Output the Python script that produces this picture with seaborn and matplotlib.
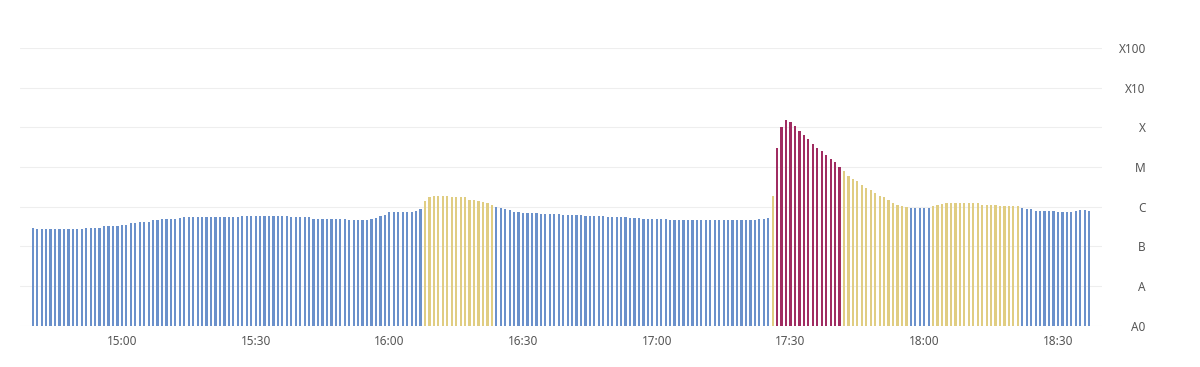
import numpy as np
import pandas as pd
import matplotlib
matplotlib.use("Agg")
import matplotlib.pyplot as plt
import seaborn as sns

# GOES X-ray flux class per minute, starting 14:40
start_time = "14:40"
flux_class = [
    "B2.9", "B2.8", "B2.8", "B2.8", "B2.8", "B2.8", "B2.8", "B2.8", "B2.8", "B2.8",
    "B2.8", "B2.8", "B2.9", "B2.9", "B2.9", "B2.9", "B3.2", "B3.2", "B3.2", "B3.2",
    "B3.5", "B3.5", "B3.8", "B3.8", "B4.2", "B4.2", "B4.2", "B4.6", "B4.6", "B4.9",
    "B4.9", "B4.9", "B4.9", "B5.2", "B5.4", "B5.4", "B5.4", "B5.4", "B5.4", "B5.4",
    "B5.4", "B5.4", "B5.4", "B5.4", "B5.4", "B5.4", "B5.4", "B5.8", "B5.8", "B5.8",
    "B5.8", "B5.8", "B5.8", "B5.8", "B5.8", "B5.8", "B5.8", "B5.8", "B5.4", "B5.4",
    "B5.4", "B5.4", "B5.4", "B5.0", "B5.0", "B5.0", "B4.8", "B4.8", "B4.8", "B4.8",
    "B4.8", "B4.5", "B4.5", "B4.5", "B4.5", "B4.5", "B4.9", "B5.2", "B5.7", "B6.1",
    "B7.3", "B7.3", "B7.3", "B7.3", "B7.3", "B7.3", "B7.8", "B8.9", "C1.4", "C1.8",
    "C1.9", "C1.9", "C1.9", "C1.9", "C1.8", "C1.7", "C1.7", "C1.7", "C1.5", "C1.5",
    "C1.4", "C1.3", "C1.2", "C1.1", "B9.7", "B9.0", "B8.5", "B8.0", "B7.4", "B7.2",
    "B7.0", "B7.0", "B7.0", "B7.0", "B6.6", "B6.6", "B6.6", "B6.6", "B6.6", "B6.2",
    "B6.2", "B6.2", "B6.2", "B6.2", "B5.9", "B5.9", "B5.9", "B5.9", "B5.9", "B5.6",
    "B5.6", "B5.6", "B5.6", "B5.6", "B5.2", "B5.2", "B5.2", "B4.9", "B4.9", "B4.9",
    "B4.9", "B4.9", "B4.9", "B4.6", "B4.6", "B4.6", "B4.6", "B4.6", "B4.6", "B4.6",
    "B4.6", "B4.6", "B4.6", "B4.6", "B4.6", "B4.6", "B4.6", "B4.6", "B4.6", "B4.6",
    "B4.6", "B4.6", "B4.6", "B4.9", "B5.0", "B5.2", "C1.9", "M3.1", "X1.0", "X1.5",
    "X1.4", "X1.1", "M8.1", "M6.3", "M5.0", "M3.9", "M3.1", "M2.5", "M2.0", "M1.6",
    "M1.3", "M1.0", "C7.9", "C5.9", "C5.1", "C4.4", "C3.6", "C3.0", "C2.6", "C2.2",
    "C1.9", "C1.7", "C1.5", "C1.25", "C1.1", "C1.03", "C1.0", "B9.4", "B9.4", "B9.4",
    "B9.4", "B9.4", "C1.04", "C1.1", "C1.15", "C1.2", "C1.25", "C1.25", "C1.25", "C1.25",
    "C1.2", "C1.2", "C1.2", "C1.1", "C1.1", "C1.1", "C1.1", "C1.05", "C1.05", "C1.05",
    "C1.05", "C1.05", "B9.4", "B8.8", "B8.8", "B7.9", "B7.9", "B7.9", "B7.9", "B7.9",
    "B7.4", "B7.4", "B7.4", "B7.4", "B7.7", "B8.0", "B8.0", "B7.8",
]

tick_times = ["15:00", "15:30", "16:00", "16:30", "17:00", "17:30", "18:00", "18:30"]
level_labels = ["A0", "A", "B", "C", "M", "X", "X10", "X100"]
class_exp = {"A": -8, "B": -7, "C": -6, "M": -5, "X": -4}
bar_colors = {"B": "#5b8edb", "C": "#f0d672", "M": "#b3195f"}

times = pd.date_range("2024-01-01 " + start_time, periods=len(flux_class), freq="min").strftime("%H:%M").tolist()

df = pd.DataFrame({"time": times, "cls": flux_class})
df["flux"] = df["cls"].apply(lambda s: float(s[1:]) * 10.0 ** class_exp[s[0]])
df["level"] = np.log10(df["flux"]) + 9  # decades above A0 (1e-9 W/m2)
df["group"] = df["cls"].str[0].replace({"X": "M"})

sns.set_theme(style="white")
plt.rcParams["font.family"] = ["Noto Sans", "DejaVu Sans"]

fig = plt.figure(figsize=(12, 3.67), dpi=100)
ax = fig.add_axes([0.0167, 0.113, 0.9017, 0.756])

sns.barplot(data=df, x="time", y="level", hue="group", order=times,
            hue_order=["B", "C", "M"], palette=bar_colors, dodge=False,
            width=0.5, errorbar=None, legend=False, linewidth=0, ax=ax)

ax.set_ylim(0, 7)
ax.yaxis.tick_right()
ax.set_yticks(range(len(level_labels)), level_labels, ha="right")
ax.tick_params(axis="y", length=0, pad=31.5, labelsize=8.5, labelcolor="#555555")

ax.set_xticks([times.index(t) for t in tick_times], tick_times)
ax.tick_params(axis="x", length=0, pad=7, labelsize=8.5, labelcolor="#555555")
ax.set_xlim(-2.85, 239.9)

ax.grid(axis="y", color="#eeeeee", linewidth=0.8)
ax.grid(axis="x", visible=False)
ax.set_axisbelow(True)
ax.set_xlabel("")
ax.set_ylabel("")
sns.despine(ax=ax, left=True, bottom=True, right=True, top=True)

fig.savefig("out.png", dpi=100)
